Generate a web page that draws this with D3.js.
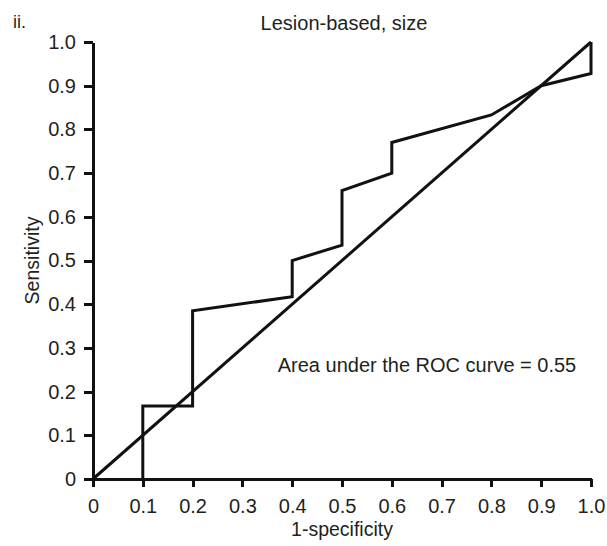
<!DOCTYPE html>
<html lang="en">
<head>
  <meta charset="UTF-8">
  <title>ROC - Lesion-based, size</title>
  <script src="https://d3js.org/d3.v7.min.js"></script>
  <style>
    body { margin: 0; background: #fff; font-family: "Liberation Sans", Arial, sans-serif; }
    text { fill: #231f20; }
    .axis path, .axis line { stroke: #111; stroke-width: 3px; shape-rendering: crispEdges; }
    .axis text { font-size: 20px; fill: #231f20; }
    .curve { fill: none; stroke: #111; stroke-width: 3px; stroke-linejoin: miter; }
  </style>
</head>
<body>
  <svg id="viz" width="607" height="546"></svg>

  <script>
    // ROC curve points (1-specificity, sensitivity)
    const fpr = [0.1, 0.1, 0.2, 0.2, 0.4, 0.4, 0.5, 0.5, 0.6, 0.6, 0.8, 0.9, 1.0, 1.0];
    const tpr = [0, 0.167, 0.167, 0.385, 0.417, 0.5, 0.535, 0.66, 0.70, 0.77, 0.833, 0.9, 0.928, 1.0];
    // reference diagonal
    const diagX = [0, 1];
    const diagY = [0, 1];
    const ticks = [0, 0.1, 0.2, 0.3, 0.4, 0.5, 0.6, 0.7, 0.8, 0.9, 1.0];

    const svg = d3.select("#viz"),
          margin = { top: 42, right: 16, bottom: 67, left: 93 },
          width = +svg.attr("width"),
          height = +svg.attr("height");

    const x = d3.scaleLinear().domain([0, 1]).range([margin.left, width - margin.right]);
    const y = d3.scaleLinear().domain([0, 1]).range([height - margin.bottom, margin.top]);

    const fmt = d => d === 0 ? "0" : d3.format(".1f")(d);

    // axes
    const gx = svg.append("g")
      .attr("class", "axis")
      .attr("transform", `translate(0,${y(0)})`)
      .call(d3.axisBottom(x).tickValues(ticks).tickFormat(fmt).tickSize(8).tickSizeOuter(0).tickPadding(11));

    const gy = svg.append("g")
      .attr("class", "axis")
      .attr("transform", `translate(${x(0)},0)`)
      .call(d3.axisLeft(y).tickValues(ticks).tickFormat(fmt).tickSize(9).tickSizeOuter(0).tickPadding(8));

    gx.selectAll("path, line").attr("stroke", "#111");
    gy.selectAll("path, line").attr("stroke", "#111");
    gx.selectAll("text").attr("fill", "#231f20").attr("dy", "0.75em");
    gy.selectAll("text").attr("fill", "#231f20");

    // diagonal
    svg.append("path")
      .attr("class", "curve")
      .attr("d", d3.line().x((d, i) => x(diagX[i])).y((d, i) => y(diagY[i]))(diagX));

    // ROC curve
    svg.append("path")
      .attr("class", "curve")
      .attr("d", d3.line().x((d, i) => x(fpr[i])).y((d, i) => y(tpr[i]))(fpr));

    // labels
    svg.append("text")
      .attr("x", 13).attr("y", 28)
      .style("font-size", "18px")
      .text("ii.");

    svg.append("text")
      .attr("x", 344).attr("y", 30)
      .attr("text-anchor", "middle")
      .style("font-size", "20px")
      .text("Lesion-based, size");

    svg.append("text")
      .attr("x", 427).attr("y", 372)
      .attr("text-anchor", "middle")
      .style("font-size", "20px")
      .text("Area under the ROC curve = 0.55");

    svg.append("text")
      .attr("transform", `translate(39,${y(0.5)}) rotate(-90)`)
      .attr("text-anchor", "middle")
      .style("font-size", "19.5px")
      .text("Sensitivity");

    svg.append("text")
      .attr("x", x(0.5)).attr("y", 536)
      .attr("text-anchor", "middle")
      .style("font-size", "19.5px")
      .text("1-specificity");
  </script>
</body>
</html>
